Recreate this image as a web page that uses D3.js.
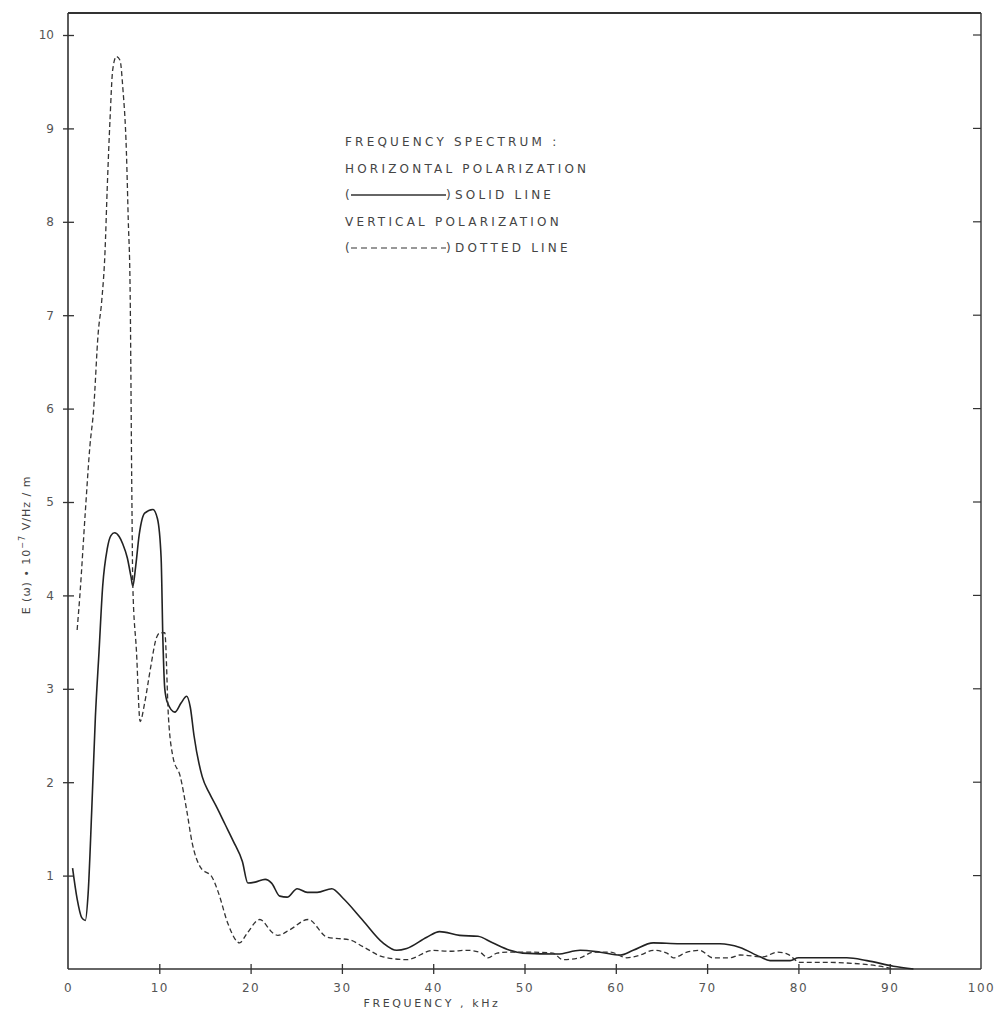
<!DOCTYPE html>
<html>
<head>
<meta charset="utf-8">
<script src="https://cdn.jsdelivr.net/npm/d3@7"></script>
<style>
  body { margin: 0; background: #fff; }
  text { font-family: "DejaVu Sans", sans-serif; fill: #444; }
</style>
</head>
<body>
<svg id="chart" width="997" height="1017"></svg>
<script>
// frequency (kHz) and E(w) * 1e-7 V/Hz/m
let horizontal = [
    [0.5, 1.08], [1.0, 0.75], [1.5, 0.55], [1.9, 0.52], [2.2, 0.8], [2.6, 1.7], [3.0, 2.7],
    [3.4, 3.4], [3.8, 4.1], [4.3, 4.5], [4.7, 4.64], [5.1, 4.67], [5.6, 4.63], [6.0, 4.55],
    [6.5, 4.4], [6.9, 4.2], [7.1, 4.1], [7.4, 4.3], [7.8, 4.65], [8.4, 4.88], [9.3, 4.92],
    [9.8, 4.82], [10.2, 4.4], [10.4, 3.5], [10.6, 3.0], [10.9, 2.85], [11.7, 2.75], [12.4, 2.85],
    [13.0, 2.92], [13.4, 2.8], [13.8, 2.5], [14.7, 2.06], [15.5, 1.88], [16.3, 1.73], [17.2, 1.55],
    [18.1, 1.37], [19.1, 1.15], [19.7, 0.92], [20.5, 0.93], [21.6, 0.96], [22.3, 0.92], [23.2, 0.78],
    [24.0, 0.77], [25.1, 0.86], [26.2, 0.82], [27.3, 0.82], [28.9, 0.86], [30.1, 0.76], [32.3, 0.52],
    [34.5, 0.28], [36.0, 0.2], [37.1, 0.22], [39.3, 0.34], [40.7, 0.40], [42.9, 0.36], [44.9, 0.35],
    [46.5, 0.28], [48.4, 0.2], [49.8, 0.17], [53.6, 0.16], [56.1, 0.2], [58.3, 0.18], [60.5, 0.15],
    [61.9, 0.2], [64.1, 0.28], [67.0, 0.27], [71.4, 0.27], [73.6, 0.23], [75.8, 0.13], [76.9, 0.09],
    [79.1, 0.09], [80.0, 0.12], [85.3, 0.12], [87.5, 0.09], [90.4, 0.03], [92.6, 0.0]
];

let vertical = [
    [1.0, 3.63], [1.3, 4.0], [1.9, 4.9], [2.4, 5.6], [2.8, 5.98], [3.3, 6.8], [3.7, 7.16],
    [4.05, 7.67], [4.3, 8.37], [4.6, 9.09], [4.9, 9.63], [5.3, 9.77], [5.7, 9.73], [6.0, 9.44],
    [6.4, 8.74], [6.6, 8.02], [6.8, 7.3], [7.0, 5.0], [7.1, 4.1], [7.5, 3.4], [7.9, 2.65],
    [8.4, 2.85], [9.0, 3.2], [9.7, 3.55], [10.1, 3.6], [10.6, 3.6], [11.0, 2.7], [11.5, 2.27],
    [12.3, 2.06], [13.0, 1.70], [13.6, 1.35], [14.5, 1.09], [15.8, 0.98], [16.5, 0.81], [17.5, 0.49],
    [18.8, 0.28], [19.6, 0.38], [21.0, 0.53], [22.5, 0.38], [23.0, 0.36], [24.3, 0.42], [26.3, 0.53],
    [28.4, 0.34], [30.9, 0.31], [32.3, 0.24], [34.5, 0.13], [37.1, 0.10], [40.0, 0.2], [41.8, 0.19],
    [43.7, 0.2], [45.1, 0.18], [46.0, 0.12], [47.0, 0.17], [48.1, 0.18], [50.9, 0.18], [53.1, 0.17],
    [54.2, 0.1], [56.1, 0.12], [57.5, 0.18], [59.4, 0.18], [61.2, 0.12], [62.7, 0.15], [64.1, 0.2],
    [65.6, 0.17], [66.3, 0.12], [67.8, 0.18], [69.2, 0.2], [70.6, 0.12], [72.5, 0.12], [73.6, 0.15],
    [76.1, 0.13], [77.7, 0.18], [78.8, 0.16], [80.2, 0.07], [83.5, 0.07], [86.0, 0.06], [88.9, 0.03],
    [90.4, 0.0]
];

let xTicks = [0, 10, 20, 30, 40, 50, 60, 70, 80, 90, 100];
let yTicks = [1, 2, 3, 4, 5, 6, 7, 8, 9, 10];
let legendLines = [
    'FREQUENCY  SPECTRUM :',
    'HORIZONTAL  POLARIZATION',
    null,
    'VERTICAL  POLARIZATION',
    null
];

let svg = d3.select('#chart');

let x = d3.scaleLinear().domain([0, 100]).range([68, 981]);
let y = d3.scaleLinear().domain([0, 10]).range([969, 35]);
let frameTop = 13;

const ink = '#333';

// frame
svg.append('line').attr('x1', x(0)).attr('x2', x(100)).attr('y1', frameTop).attr('y2', frameTop)
    .attr('stroke', ink).attr('stroke-width', 2);
svg.append('line').attr('x1', x(100)).attr('x2', x(100)).attr('y1', frameTop).attr('y2', y(0))
    .attr('stroke', ink).attr('stroke-width', 1.4);

// left axis, ticks crossing the line
let yAxis = svg.append('g').attr('transform', `translate(${x(0)},0)`)
    .call(d3.axisLeft(y).tickValues(yTicks).tickSize(5).tickPadding(9).tickFormat(d3.format('d')));
yAxis.select('.domain').attr('d', `M0,${frameTop}V${y(0)}`).attr('stroke', ink).attr('stroke-width', 1.6);
yAxis.selectAll('.tick line').attr('x2', -5).attr('x1', 6).attr('stroke', ink).attr('stroke-width', 1.3);
yAxis.selectAll('.tick text').attr('font-size', 12).style('fill', '#555');

// right ticks pointing inward
svg.append('g').selectAll('line').data(yTicks).enter().append('line')
    .attr('x1', x(100) - 8).attr('x2', x(100))
    .attr('y1', d => y(d)).attr('y2', d => y(d))
    .attr('stroke', ink).attr('stroke-width', 1.2);

// bottom axis
let xAxis = svg.append('g').attr('transform', `translate(0,${y(0)})`)
    .call(d3.axisBottom(x).tickValues(xTicks).tickSize(5).tickPadding(9).tickFormat(d3.format('d')));
xAxis.select('.domain').attr('d', `M${x(0)},0H${x(100)}`).attr('stroke', ink).attr('stroke-width', 1.6);
xAxis.selectAll('.tick line').attr('y1', -5).attr('y2', 5).attr('stroke', ink).attr('stroke-width', 1.3)
    .filter(d => d === 0 || d === 100).remove();
xAxis.selectAll('.tick text').attr('font-size', 12).attr('letter-spacing', 1.5).style('fill', '#555');

// axis titles
svg.append('text').attr('x', 432).attr('y', 1007).attr('text-anchor', 'middle')
    .attr('font-size', 11).attr('letter-spacing', 2.6)
    .text('FREQUENCY , kHz');

let yTitle = svg.append('text').attr('transform', 'translate(30,545) rotate(-90)')
    .attr('text-anchor', 'middle').attr('font-size', 11).attr('letter-spacing', 1);
yTitle.append('tspan').text('E (ω) • 10');
yTitle.append('tspan').attr('dy', -5).attr('font-size', 8).text('−7');
yTitle.append('tspan').attr('dy', 5).text('  V/Hz / m');

// curves
let line = d3.line().x(d => x(d[0])).y(d => y(d[1])).curve(d3.curveMonotoneX);

svg.append('path').datum(horizontal).attr('d', line)
    .attr('fill', 'none').attr('stroke', '#222').attr('stroke-width', 1.6);

svg.append('path').datum(vertical).attr('d', line)
    .attr('fill', 'none').attr('stroke', '#333').attr('stroke-width', 1.3)
    .attr('stroke-dasharray', '5,3');

// legend
let lx = 345, ly = 146, step = 26.5;
svg.append('g').selectAll('text').data(legendLines.filter(d => d)).enter().append('text')
    .attr('x', lx)
    .attr('y', d => ly + legendLines.indexOf(d) * step)
    .attr('font-size', 12).attr('letter-spacing', 3.2)
    .text(d => d);

function legendRow(i, dash, label) {
    let yy = ly + i * step;
    svg.append('text').attr('x', lx).attr('y', yy).attr('font-size', 12).text('(');
    svg.append('line').attr('x1', lx + 6).attr('x2', lx + 101).attr('y1', yy - 4).attr('y2', yy - 4)
        .attr('stroke', ink).attr('stroke-width', dash ? 1.2 : 1.5)
        .attr('stroke-dasharray', dash ? '6,4' : null);
    svg.append('text').attr('x', lx + 101).attr('y', yy).attr('font-size', 12).text(')');
    svg.append('text').attr('x', lx + 110).attr('y', yy).attr('font-size', 12)
        .attr('letter-spacing', 3.2).text(label);
}
legendRow(2, false, 'SOLID  LINE');
legendRow(4, true, 'DOTTED  LINE');
</script>
</body>
</html>
